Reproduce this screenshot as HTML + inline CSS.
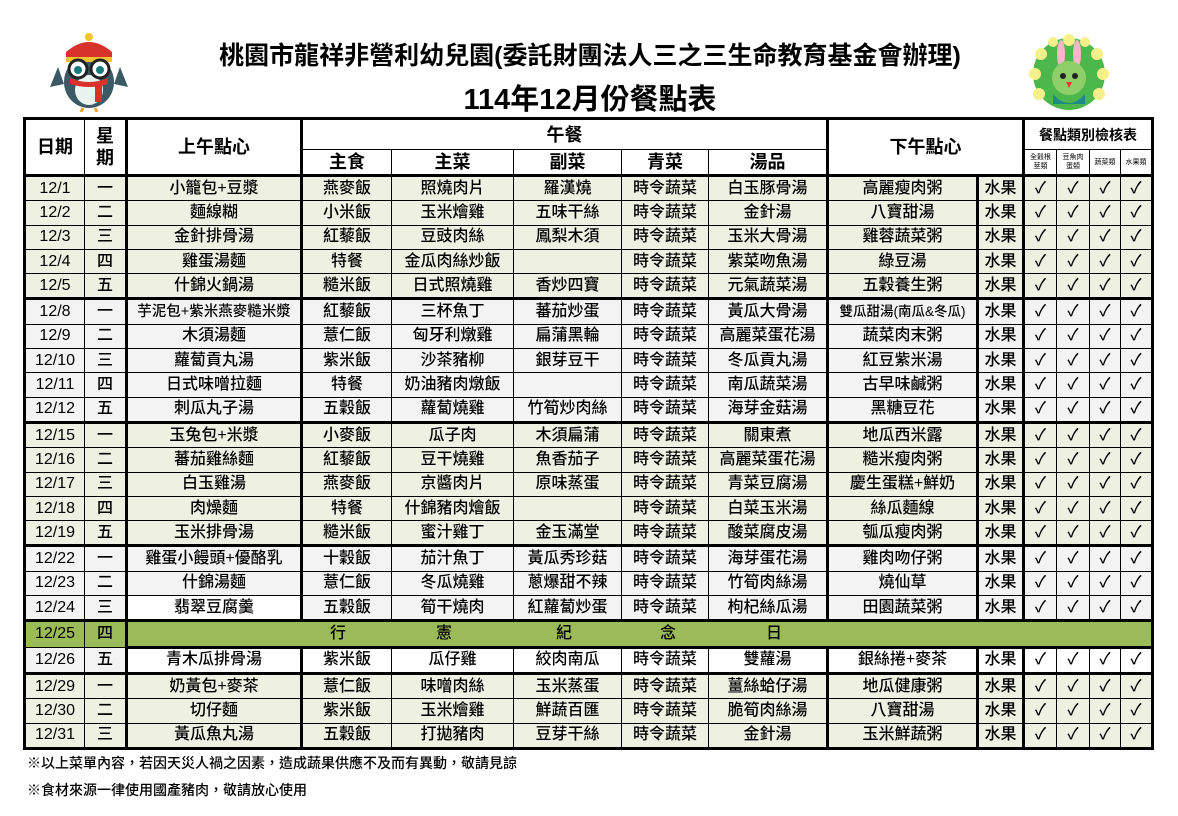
<!DOCTYPE html>
<html><head><meta charset="utf-8">
<style>
body{margin:0;width:1178px;height:816px;background:#fff;position:relative;overflow:hidden;font-family:"Liberation Sans","Noto Sans CJK TC",sans-serif;}
.t1{position:absolute;left:170px;top:36px;width:840px;text-align:center;font-size:25px;font-weight:bold;white-space:nowrap;}
.t2{position:absolute;left:380px;top:76px;width:420px;text-align:center;font-size:29px;font-weight:bold;}
table{position:absolute;left:23px;top:117px;border-collapse:collapse;table-layout:fixed;width:1128px;}
td{border:1px solid #000;padding:0;text-align:center;font-size:16px;font-weight:500;height:23.3px;line-height:20px;white-space:nowrap;overflow:hidden;}
.h td{font-size:18px;font-weight:bold;background:#fff;}
.sm{font-size:7px!important;line-height:9px!important;font-weight:normal!important}
.a td{background:#EEF0E2}
.b td{background:#F3F3F3}
.w{background:#fff!important}
.tk{border-top:3px solid #000}
.L{border-left:3px solid #000}
.R{border-right:3px solid #000}
.g td{background:#9BBB59}
.note{position:absolute;left:27px;font-size:14px;font-weight:500;}
</style></head><body>
<svg style="position:absolute;left:48px;top:32px" width="82" height="80" viewBox="0 0 82 80">
<ellipse cx="41" cy="50" rx="25" ry="26" fill="#3c5a66"/>
<path d="M10 35 L2 55 L16 52Z" fill="#3c5a66"/><path d="M72 35 L80 55 L66 52Z" fill="#3c5a66"/>
<ellipse cx="41" cy="58" rx="14" ry="15" fill="#e9f4f0"/>
<path d="M18 20 Q41 0 64 20 L64 28 L18 28Z" fill="#d8322d"/>
<rect x="18" y="25" width="46" height="5" fill="#f1c232"/>
<circle cx="41" cy="5" r="4" fill="#f1c232"/>
<circle cx="30" cy="37" r="9" fill="#fff" stroke="#222" stroke-width="3"/><circle cx="52" cy="37" r="9" fill="#fff" stroke="#222" stroke-width="3"/>
<circle cx="30" cy="38" r="4" fill="#1b7b7b"/><circle cx="52" cy="38" r="4" fill="#1b7b7b"/>
<path d="M22 46 Q41 54 60 46 L60 52 Q41 58 22 52Z" fill="#d8322d"/><rect x="47" y="50" width="7" height="20" fill="#d8322d"/>
<path d="M35 76 L33 80 M47 76 L49 80" stroke="#f1a232" stroke-width="3"/>
</svg>
<svg style="position:absolute;left:1025px;top:32px" width="88" height="86" viewBox="0 0 88 86">
<g fill="#4cb84c"><circle cx="44" cy="42" r="36"/></g>
<g fill="#f5f08a"><circle cx="16" cy="22" r="6"/><circle cx="10" cy="42" r="6"/><circle cx="14" cy="62" r="6"/><circle cx="72" cy="22" r="6"/><circle cx="78" cy="42" r="6"/><circle cx="74" cy="62" r="6"/><circle cx="44" cy="8" r="6"/><circle cx="28" cy="10" r="5"/><circle cx="60" cy="10" r="5"/></g>
<ellipse cx="36" cy="22" rx="4" ry="14" fill="#f4b6c8"/><ellipse cx="52" cy="22" rx="4" ry="14" fill="#f4b6c8"/>
<circle cx="44" cy="46" r="17" fill="#8fcf6a"/>
<circle cx="38" cy="44" r="3" fill="#222"/><circle cx="50" cy="44" r="3" fill="#222"/>
<path d="M41 50 L47 50 L44 56Z" fill="#e33"/>
<path d="M28 62 Q44 80 60 62 L60 72 L28 72Z" fill="#1d8a86"/>
</svg>
<div class="t1">桃園市龍祥非營利幼兒園(委託財團法人三之三生命教育基金會辦理)</div>
<div class="t2">114年12月份餐點表</div>
<table>
<colgroup><col style="width:60px"><col style="width:42px"><col style="width:175px"><col style="width:90px"><col style="width:122px"><col style="width:108px"><col style="width:87px"><col style="width:119px"><col style="width:150px"><col style="width:46px"><col style="width:33px"><col style="width:33px"><col style="width:31px"><col style="width:32px"></colgroup>
<tr class="h" style="height:31px"><td rowspan="2" style="border-top:3px solid #000;border-left:3px solid #000;border-bottom:3px solid #000">日期</td><td rowspan="2" style="border-top:3px solid #000;border-bottom:3px solid #000;line-height:22px">星<br>期</td><td rowspan="2" style="border-top:3px solid #000;border-bottom:3px solid #000" class="L R">上午點心</td><td colspan="5" style="border-top:3px solid #000">午餐</td><td colspan="2" rowspan="2" class="L R" style="border-top:3px solid #000;border-bottom:3px solid #000">下午點心</td><td colspan="4" style="border-top:3px solid #000;font-size:14px" class="R">餐點類別檢核表</td></tr>
<tr class="h" style="height:26px"><td style="border-bottom:3px solid #000">主食</td><td style="border-bottom:3px solid #000">主菜</td><td style="border-bottom:3px solid #000">副菜</td><td style="border-bottom:3px solid #000">青菜</td><td style="border-bottom:3px solid #000">湯品</td><td class="sm" style="border-bottom:3px solid #000">全穀根<br>莖類</td><td class="sm" style="border-bottom:3px solid #000">豆魚肉<br>蛋類</td><td class="sm" style="border-bottom:3px solid #000">蔬菜類</td><td class="sm R" style="border-bottom:3px solid #000">水果類</td></tr>
<tr class="a"><td class="L">12/1</td><td>一</td><td class="L R">小籠包+豆漿</td><td>燕麥飯</td><td>照燒肉片</td><td>羅漢燒</td><td>時令蔬菜</td><td>白玉豚骨湯</td><td class="L">高麗瘦肉粥</td><td class="L R">水果</td><td>✓</td><td>✓</td><td>✓</td><td class="R">✓</td></tr>
<tr class="a"><td class="L">12/2</td><td>二</td><td class="L R">麵線糊</td><td>小米飯</td><td>玉米燴雞</td><td>五味干絲</td><td>時令蔬菜</td><td>金針湯</td><td class="L">八寶甜湯</td><td class="L R">水果</td><td>✓</td><td>✓</td><td>✓</td><td class="R">✓</td></tr>
<tr class="a"><td class="L">12/3</td><td>三</td><td class="L R">金針排骨湯</td><td>紅藜飯</td><td>豆豉肉絲</td><td>鳳梨木須</td><td>時令蔬菜</td><td>玉米大骨湯</td><td class="L">雞蓉蔬菜粥</td><td class="L R">水果</td><td>✓</td><td>✓</td><td>✓</td><td class="R">✓</td></tr>
<tr class="a"><td class="L">12/4</td><td>四</td><td class="L R">雞蛋湯麵</td><td>特餐</td><td>金瓜肉絲炒飯</td><td></td><td>時令蔬菜</td><td>紫菜吻魚湯</td><td class="L">綠豆湯</td><td class="L R">水果</td><td>✓</td><td>✓</td><td>✓</td><td class="R">✓</td></tr>
<tr class="a"><td class="L">12/5</td><td>五</td><td class="L R">什錦火鍋湯</td><td>糙米飯</td><td>日式照燒雞</td><td>香炒四寶</td><td>時令蔬菜</td><td>元氣蔬菜湯</td><td class="L">五穀養生粥</td><td class="L R">水果</td><td>✓</td><td>✓</td><td>✓</td><td class="R">✓</td></tr>
<tr class="b"><td class="L tk">12/8</td><td class="tk">一</td><td class="L R tk" style="font-size:14.5px">芋泥包+紫米燕麥糙米漿</td><td class="tk">紅藜飯</td><td class="tk">三杯魚丁</td><td class="tk">蕃茄炒蛋</td><td class="tk">時令蔬菜</td><td class="tk">黃瓜大骨湯</td><td class="L tk" style="font-size:13.5px">雙瓜甜湯(南瓜&amp;冬瓜)</td><td class="L R tk">水果</td><td class="tk">✓</td><td class="tk">✓</td><td class="tk">✓</td><td class="R tk">✓</td></tr>
<tr class="b"><td class="L">12/9</td><td>二</td><td class="L R">木須湯麵</td><td>薏仁飯</td><td>匈牙利燉雞</td><td>扁蒲黑輪</td><td>時令蔬菜</td><td>高麗菜蛋花湯</td><td class="L">蔬菜肉末粥</td><td class="L R">水果</td><td>✓</td><td>✓</td><td>✓</td><td class="R">✓</td></tr>
<tr class="b"><td class="L">12/10</td><td>三</td><td class="L R">蘿蔔貢丸湯</td><td>紫米飯</td><td>沙茶豬柳</td><td>銀芽豆干</td><td>時令蔬菜</td><td>冬瓜貢丸湯</td><td class="L">紅豆紫米湯</td><td class="L R">水果</td><td>✓</td><td>✓</td><td>✓</td><td class="R">✓</td></tr>
<tr class="b"><td class="L">12/11</td><td>四</td><td class="L R">日式味噌拉麵</td><td>特餐</td><td>奶油豬肉燉飯</td><td></td><td>時令蔬菜</td><td>南瓜蔬菜湯</td><td class="L">古早味鹹粥</td><td class="L R">水果</td><td>✓</td><td>✓</td><td>✓</td><td class="R">✓</td></tr>
<tr class="b"><td class="L">12/12</td><td>五</td><td class="L R">刺瓜丸子湯</td><td>五穀飯</td><td>蘿蔔燒雞</td><td>竹筍炒肉絲</td><td>時令蔬菜</td><td>海芽金菇湯</td><td class="L">黑糖豆花</td><td class="L R">水果</td><td>✓</td><td>✓</td><td>✓</td><td class="R">✓</td></tr>
<tr class="a"><td class="L tk">12/15</td><td class="tk">一</td><td class="L R tk">玉兔包+米漿</td><td class="tk">小麥飯</td><td class="tk">瓜子肉</td><td class="tk">木須扁蒲</td><td class="tk">時令蔬菜</td><td class="tk">關東煮</td><td class="L tk">地瓜西米露</td><td class="L R tk">水果</td><td class="tk">✓</td><td class="tk">✓</td><td class="tk">✓</td><td class="R tk">✓</td></tr>
<tr class="a"><td class="L">12/16</td><td>二</td><td class="L R">蕃茄雞絲麵</td><td>紅藜飯</td><td>豆干燒雞</td><td>魚香茄子</td><td>時令蔬菜</td><td>高麗菜蛋花湯</td><td class="L">糙米瘦肉粥</td><td class="L R">水果</td><td>✓</td><td>✓</td><td>✓</td><td class="R">✓</td></tr>
<tr class="a"><td class="L">12/17</td><td>三</td><td class="L R">白玉雞湯</td><td>燕麥飯</td><td>京醬肉片</td><td>原味蒸蛋</td><td>時令蔬菜</td><td>青菜豆腐湯</td><td class="L">慶生蛋糕+鮮奶</td><td class="L R">水果</td><td>✓</td><td>✓</td><td>✓</td><td class="R">✓</td></tr>
<tr class="a"><td class="L">12/18</td><td>四</td><td class="L R">肉燥麵</td><td>特餐</td><td>什錦豬肉燴飯</td><td></td><td>時令蔬菜</td><td>白菜玉米湯</td><td class="L">絲瓜麵線</td><td class="L R">水果</td><td>✓</td><td>✓</td><td>✓</td><td class="R">✓</td></tr>
<tr class="a"><td class="L">12/19</td><td>五</td><td class="L R">玉米排骨湯</td><td>糙米飯</td><td>蜜汁雞丁</td><td>金玉滿堂</td><td>時令蔬菜</td><td>酸菜腐皮湯</td><td class="L">瓠瓜瘦肉粥</td><td class="L R">水果</td><td>✓</td><td>✓</td><td>✓</td><td class="R">✓</td></tr>
<tr class="b"><td class="L tk">12/22</td><td class="tk">一</td><td class="L R tk">雞蛋小饅頭+優酪乳</td><td class="tk">十穀飯</td><td class="tk">茄汁魚丁</td><td class="tk">黃瓜秀珍菇</td><td class="tk">時令蔬菜</td><td class="tk">海芽蛋花湯</td><td class="L tk">雞肉吻仔粥</td><td class="L R tk">水果</td><td class="tk">✓</td><td class="tk">✓</td><td class="tk">✓</td><td class="R tk">✓</td></tr>
<tr class="b"><td class="L">12/23</td><td>二</td><td class="L R">什錦湯麵</td><td>薏仁飯</td><td>冬瓜燒雞</td><td>蔥爆甜不辣</td><td>時令蔬菜</td><td>竹筍肉絲湯</td><td class="L">燒仙草</td><td class="L R">水果</td><td>✓</td><td>✓</td><td>✓</td><td class="R">✓</td></tr>
<tr class="b"><td class="L">12/24</td><td>三</td><td class="L R w">翡翠豆腐羹</td><td>五穀飯</td><td>筍干燒肉</td><td>紅蘿蔔炒蛋</td><td>時令蔬菜</td><td>枸杞絲瓜湯</td><td class="L">田園蔬菜粥</td><td class="L R">水果</td><td>✓</td><td>✓</td><td>✓</td><td class="R">✓</td></tr>
<tr class="g"><td class="L tk">12/25</td><td class="tk">四</td><td colspan="12" class="tk R L" style="border-bottom:3px solid #000;text-align:left"><div style="position:relative;height:20px"><span style="position:absolute;left:202px">行</span><span style="position:absolute;left:308px">憲</span><span style="position:absolute;left:428px">紀</span><span style="position:absolute;left:532px">念</span><span style="position:absolute;left:638px">日</span></div></td></tr>
<tr class="b"><td class="L">12/26</td><td>五</td><td class="L R w">青木瓜排骨湯</td><td class="w">紫米飯</td><td class="w">瓜仔雞</td><td class="w">絞肉南瓜</td><td class="w">時令蔬菜</td><td class="w">雙蘿湯</td><td class="L w">銀絲捲+麥茶</td><td class="L R w">水果</td><td class="w">✓</td><td class="w">✓</td><td class="w">✓</td><td class="R w">✓</td></tr>
<tr class="a"><td class="L tk">12/29</td><td class="tk">一</td><td class="L R tk">奶黃包+麥茶</td><td class="tk">薏仁飯</td><td class="tk">味噌肉絲</td><td class="tk">玉米蒸蛋</td><td class="tk">時令蔬菜</td><td class="tk">薑絲蛤仔湯</td><td class="L tk">地瓜健康粥</td><td class="L R tk">水果</td><td class="tk">✓</td><td class="tk">✓</td><td class="tk">✓</td><td class="R tk">✓</td></tr>
<tr class="a"><td class="L">12/30</td><td>二</td><td class="L R">切仔麵</td><td>紫米飯</td><td>玉米燴雞</td><td>鮮蔬百匯</td><td>時令蔬菜</td><td>脆筍肉絲湯</td><td class="L">八寶甜湯</td><td class="L R">水果</td><td>✓</td><td>✓</td><td>✓</td><td class="R">✓</td></tr>
<tr class="a" style="border-bottom:3px solid #000"><td class="L" style="border-bottom:3px solid #000">12/31</td><td style="border-bottom:3px solid #000">三</td><td class="L R" style="border-bottom:3px solid #000">黃瓜魚丸湯</td><td style="border-bottom:3px solid #000">五穀飯</td><td style="border-bottom:3px solid #000">打拋豬肉</td><td style="border-bottom:3px solid #000">豆芽干絲</td><td style="border-bottom:3px solid #000">時令蔬菜</td><td style="border-bottom:3px solid #000">金針湯</td><td class="L" style="border-bottom:3px solid #000">玉米鮮蔬粥</td><td class="L R" style="border-bottom:3px solid #000">水果</td><td style="border-bottom:3px solid #000">✓</td><td style="border-bottom:3px solid #000">✓</td><td style="border-bottom:3px solid #000">✓</td><td class="R" style="border-bottom:3px solid #000">✓</td></tr>
</table>
<div class="note" style="top:753px">※以上菜單內容，若因天災人禍之因素，造成蔬果供應不及而有異動，敬請見諒</div>
<div class="note" style="top:780px">※食材來源一律使用國產豬肉，敬請放心使用</div>
</body></html>
